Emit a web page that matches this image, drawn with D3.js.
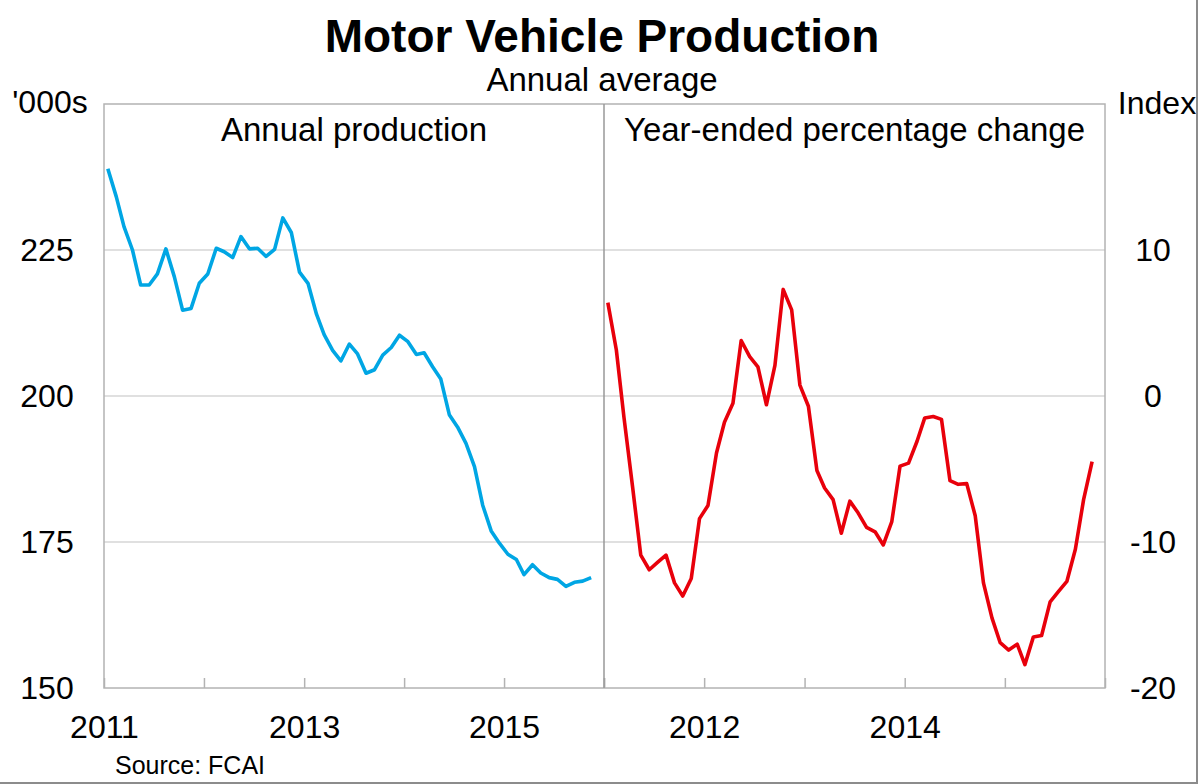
<!DOCTYPE html>
<html>
<head>
<meta charset="utf-8">
<script src="https://cdn.jsdelivr.net/npm/d3@7"></script>
<style>
    body { margin:0; background:#fff; }
    svg text { font-family:"Liberation Sans", Arial, sans-serif; fill:#000; }
</style>
</head>
<body>
<svg id="chart" width="1200" height="784"></svg>
<script>
// Annual production, '000s (monthly, Jan 2011 - Nov 2015)
var productionValues = [
    238.9, 234.1, 229.0, 225.0, 219.0, 219.0, 220.9, 225.2, 220.4, 214.7, 215.0, 219.3,
    220.9, 225.3, 224.7, 223.7, 227.3, 225.2, 225.3, 223.9, 225.1, 230.5, 228.0, 221.2,
    219.3, 214.0, 210.5, 207.8, 206.0, 208.9, 207.2, 203.9, 204.5, 207.0, 208.3, 210.4,
    209.3, 207.1, 207.4, 205.0, 202.9, 196.8, 194.7, 191.9, 187.9, 181.3, 176.9, 174.8,
    172.9, 172.0, 169.4, 171.1, 169.7, 168.9, 168.6, 167.4, 168.1, 168.3, 168.9
];
// Year-ended percentage change
var changeValues = [
    6.4, 3.15, -1.5, -6.2, -10.9, -11.9, -11.4, -10.9, -12.8, -13.7, -12.5, -8.4,
    -7.5, -3.9, -1.8, -0.5, 3.8, 2.7, 2.0, -0.6, 2.1, 7.3, 5.9, 0.75,
    -0.7, -5.1, -6.3, -7.1, -9.4, -7.2, -8.0, -9.0, -9.3, -10.2, -8.6, -4.8,
    -4.6, -3.1, -1.5, -1.4, -1.6, -5.8, -6.05, -6.0, -8.2, -12.8, -15.2, -16.9,
    -17.4, -17.0, -18.4, -16.5, -16.4, -14.1, -13.4, -12.7, -10.5, -7.1, -4.5
];
var firstMonth = new Date(2011, 0, 1);
var yearTicks = [2011, 2012, 2013, 2014, 2015, 2016];
var leftYearLabels = [2011, 2013, 2015];
var rightYearLabels = [2012, 2014];
var leftTicks = [150, 175, 200, 225];
var rightTicks = [-20, -10, 0, 10];

var conf = {
    top:104,
    bottom:688,
    leftX:104,
    midX:604,
    rightX:1105,
    blue:'#00a6e4',
    red:'#e8000b',
    lineWidth:3.6,
    frame:'#b3b3b3',
    grid:'#d6d6d6',
    // size of tick labels and sub titles
    labelSize:32
};

var svg = d3.select('#chart');

// months are plotted at mid-month
var months = d3.timeMonth.range(firstMonth, d3.timeMonth.offset(firstMonth, productionValues.length))
    .map(function(d){ return d3.timeDay.offset(d, 14); });

var xLeft = d3.scaleTime()
    .domain([new Date(2011, 0, 1), new Date(2016, 0, 1)])
    .range([conf.leftX, conf.midX]);
var xRight = d3.scaleTime()
    .domain([new Date(2011, 0, 1), new Date(2016, 0, 1)])
    .range([conf.midX, conf.rightX]);
var yLeft = d3.scaleLinear().domain([150, 250]).range([conf.bottom, conf.top]);
var yRight = d3.scaleLinear().domain([-20, 20]).range([conf.bottom, conf.top]);

// gridlines across both panels
svg.append('g').selectAll('line')
    .data([175, 200, 225])
    .enter().append('line')
    .attr('x1', conf.leftX)
    .attr('x2', conf.rightX)
    .attr('y1', function(d){ return yLeft(d); })
    .attr('y2', function(d){ return yLeft(d); })
    .attr('stroke', conf.grid)
    .attr('stroke-width', 1.5);

// year ticks on both panels
var drawXAxis = function(scale, labels){
    var axis = d3.axisBottom(scale)
        .tickValues(yearTicks.map(function(y){ return new Date(y, 0, 1); }))
        .tickSize(-10)
        .tickPadding(27)
        .tickFormat(function(d){
            return labels.indexOf(d.getFullYear()) >= 0 ? d.getFullYear() : '';
        });
    var g = svg.append('g')
        .attr('transform', 'translate(0,' + conf.bottom + ')')
        .call(axis);
    g.select('.domain').remove();
    g.selectAll('.tick line').attr('stroke', conf.frame).attr('stroke-width', 1.5);
    g.selectAll('.tick text')
        .attr('font-size', conf.labelSize)
        .attr('font-family', '"Liberation Sans", Arial, sans-serif')
        .attr('fill', '#000');
};
drawXAxis(xLeft, leftYearLabels);
drawXAxis(xRight, rightYearLabels);

// plot frame and panel divider
svg.append('rect')
    .attr('x', conf.leftX)
    .attr('y', conf.top)
    .attr('width', conf.rightX - conf.leftX)
    .attr('height', conf.bottom - conf.top)
    .attr('fill', 'none')
    .attr('stroke', conf.frame)
    .attr('stroke-width', 1.5);
svg.append('line')
    .attr('x1', conf.midX).attr('x2', conf.midX)
    .attr('y1', conf.top).attr('y2', conf.bottom)
    .attr('stroke', '#999')
    .attr('stroke-width', 1.5);

// y tick labels
svg.append('g').selectAll('text')
    .data(leftTicks)
    .enter().append('text')
    .attr('x', 47)
    .attr('y', function(d){ return yLeft(d); })
    .attr('dy', '0.35em')
    .attr('font-size', conf.labelSize)
    .style('text-anchor', 'middle')
    .text(function(d){ return d; });
svg.append('g').selectAll('text')
    .data(rightTicks)
    .enter().append('text')
    .attr('x', 1153)
    .attr('y', function(d){ return yRight(d); })
    .attr('dy', '0.35em')
    .attr('font-size', conf.labelSize)
    .style('text-anchor', 'middle')
    .text(function(d){ return d; });

// the two series
var leftLine = d3.line()
    .x(function(d, i){ return xLeft(months[i]); })
    .y(function(d){ return yLeft(d); });
var rightLine = d3.line()
    .x(function(d, i){ return xRight(months[i]); })
    .y(function(d){ return yRight(d); });

svg.append('path')
    .datum(productionValues)
    .attr('d', leftLine)
    .attr('fill', 'none')
    .attr('stroke', conf.blue)
    .attr('stroke-width', conf.lineWidth)
    .attr('stroke-linejoin', 'round');
svg.append('path')
    .datum(changeValues)
    .attr('d', rightLine)
    .attr('fill', 'none')
    .attr('stroke', conf.red)
    .attr('stroke-width', conf.lineWidth)
    .attr('stroke-linejoin', 'round');

// titles and labels
var addText = function(x, y, size, txt, anchor, weight){
    svg.append('text')
        .attr('x', x)
        .attr('y', y)
        .attr('font-size', size)
        .attr('font-weight', weight || 'normal')
        .style('text-anchor', anchor)
        .text(txt);
};
addText(602, 52, 46, 'Motor Vehicle Production', 'middle', 'bold');
addText(602, 91, 33, 'Annual average', 'middle');
addText(50, 113, 32, "'000s", 'middle');
addText(1157, 114, 32, 'Index', 'middle');
addText((conf.leftX + conf.midX) / 2, 141, 33, 'Annual production', 'middle');
addText((conf.midX + conf.rightX) / 2, 141, 33, 'Year-ended percentage change', 'middle');
addText(115, 774, 25, 'Source: FCAI', 'start');

// image frame on the right and bottom
svg.append('path')
    .attr('d', 'M1197,0 V783 H0')
    .attr('fill', 'none')
    .attr('stroke', '#8c8c8c')
    .attr('stroke-width', 2);
</script>
</body>
</html>
